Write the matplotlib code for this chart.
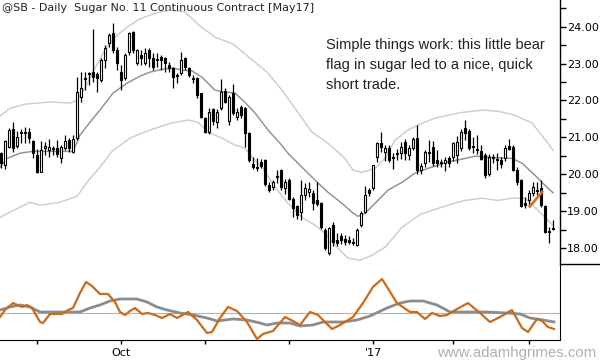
import numpy as np
import pandas as pd
import matplotlib
matplotlib.use("Agg")
import matplotlib.pyplot as plt
from matplotlib.lines import Line2D
from matplotlib.ticker import MultipleLocator, FormatStrFormatter

# ---------- data ----------------------------------------------------------
holidays = ["2016-09-05", "2016-11-24", "2016-12-26", "2017-01-02",
            "2017-01-16", "2017-02-20"]
dates = pd.bdate_range("2016-08-19", "2017-03-09", freq="C", holidays=holidays)

opens = [20.57, 20.24, 20.73, 21.22, 20.76, 21.12, 21.14, 21.14, 20.89, 20.52,
         20.05, 20.71, 20.65, 20.68, 20.70, 20.43, 20.71, 20.92, 20.60, 20.98,
         22.09, 22.58, 22.71, 22.77, 22.72, 22.55, 23.10, 23.56, 23.83, 23.37,
         22.77, 22.61, 23.32, 23.86, 23.01, 23.23, 23.01, 23.37, 23.15, 23.10,
         23.18, 23.15, 22.96, 22.88, 22.69, 22.74, 23.15, 22.88, 22.61, 22.61,
         22.20, 21.52, 21.14, 21.77, 21.41, 21.79, 22.25, 21.44, 22.20, 21.55,
         21.82, 21.79, 21.11, 20.28, 20.19, 20.33, 20.38, 19.70, 19.65, 19.92,
         20.11, 19.62, 19.84, 19.32, 19.13, 18.97, 19.45, 19.51, 19.48, 19.29,
         19.21, 18.48, 17.86, 18.62, 18.21, 18.32, 18.24, 18.21, 18.16, 18.08,
         18.62, 18.97, 19.57, 19.62, 20.46, 20.84, 20.60, 20.71, 20.46, 20.55,
         20.57, 20.87, 20.52, 20.71, 20.98, 20.11, 20.30, 20.60, 20.73, 20.38,
         20.33, 20.30, 20.43, 20.46, 20.52, 20.71, 21.25, 21.17, 20.76, 20.68,
         20.62, 20.52, 20.00, 20.46, 20.41, 20.38, 20.43, 20.76, 20.73, 20.11,
         19.84, 19.21, 19.29, 19.48, 19.56, 19.62, 19.13, 18.45, 18.53]
highs = [20.60, 20.92, 21.25, 21.41, 21.17, 21.22, 21.27, 21.25, 20.92, 20.68,
         20.89, 20.87, 20.95, 20.76, 20.92, 20.79, 21.06, 20.98, 21.06, 22.64,
         22.77, 22.77, 22.77, 23.94, 22.77, 23.15, 23.50, 23.83, 24.10, 23.45,
         22.96, 23.29, 23.86, 23.88, 23.40, 23.37, 23.42, 23.42, 23.29, 23.29,
         23.23, 23.18, 23.04, 22.91, 22.74, 23.31, 23.18, 22.91, 22.69, 22.64,
         22.20, 21.55, 21.79, 21.79, 21.77, 22.58, 22.34, 22.15, 22.44, 21.79,
         21.87, 21.82, 21.14, 20.46, 20.43, 20.41, 20.41, 19.78, 19.84, 20.11,
         20.14, 19.86, 19.91, 19.37, 19.16, 19.84, 19.75, 19.78, 19.57, 19.78,
         19.26, 18.53, 18.56, 18.70, 18.40, 18.40, 18.35, 18.32, 18.27, 18.53,
         19.00, 19.67, 19.62, 20.26, 20.87, 21.14, 20.79, 20.79, 20.57, 20.68,
         20.87, 20.95, 20.79, 21.01, 21.33, 20.30, 20.65, 20.92, 20.90, 20.65,
         20.41, 20.46, 20.49, 20.87, 21.04, 21.22, 21.47, 21.22, 21.01, 21.06,
         20.79, 20.57, 20.55, 20.55, 20.57, 20.46, 20.79, 20.95, 20.79, 20.19,
         19.86, 19.37, 19.57, 19.78, 19.78, 19.84, 19.16, 18.56, 18.75]
lows = [20.16, 20.13, 20.71, 20.60, 20.71, 20.84, 20.84, 20.84, 20.43, 20.03,
        20.05, 20.52, 20.46, 20.52, 20.46, 20.30, 20.65, 20.60, 20.57, 20.92,
        21.96, 22.28, 22.42, 22.50, 22.23, 22.50, 22.88, 23.46, 23.29, 22.82,
        22.28, 22.55, 23.23, 23.29, 22.96, 22.96, 22.96, 22.91, 22.82, 22.91,
        22.82, 22.77, 22.77, 22.34, 22.47, 22.69, 22.82, 22.64, 22.47, 22.06,
        21.52, 21.11, 21.08, 21.33, 21.26, 21.74, 21.93, 21.33, 21.60, 21.47,
        21.52, 20.73, 20.33, 20.13, 20.08, 20.16, 19.67, 19.51, 19.57, 19.75,
        19.57, 19.46, 19.29, 18.84, 18.78, 18.75, 19.29, 19.37, 19.02, 19.13,
        18.51, 17.94, 17.80, 18.05, 18.05, 18.10, 18.08, 18.10, 18.08, 18.05,
        18.56, 18.94, 19.40, 19.57, 20.33, 20.60, 20.35, 20.33, 20.13, 20.38,
        20.41, 20.38, 20.38, 20.65, 20.00, 20.00, 20.19, 20.33, 20.22, 20.19,
        20.19, 20.08, 20.19, 20.35, 20.30, 20.62, 20.92, 20.65, 20.57, 20.55,
        20.38, 19.89, 19.95, 20.30, 20.11, 20.16, 20.35, 20.65, 20.08, 19.70,
        19.10, 19.08, 19.13, 19.40, 19.45, 19.10, 18.40, 18.13, 18.48]
closes = [20.30, 20.89, 21.20, 20.71, 21.00, 21.14, 21.12, 20.98, 20.57, 20.05,
          20.65, 20.76, 20.73, 20.70, 20.54, 20.73, 20.89, 20.71, 20.95, 22.23,
          22.34, 22.61, 22.74, 22.64, 22.61, 23.10, 23.42, 23.77, 23.37, 23.01,
          22.55, 23.23, 23.83, 23.37, 23.37, 23.15, 23.29, 23.15, 22.91, 23.12,
          23.10, 23.01, 22.88, 22.64, 22.67, 23.10, 22.91, 22.69, 22.58, 22.15,
          21.55, 21.14, 21.68, 21.44, 21.68, 22.23, 21.96, 22.09, 21.66, 21.68,
          21.60, 21.11, 20.38, 20.19, 20.16, 20.22, 19.73, 19.57, 19.78, 19.95,
          19.65, 19.78, 19.32, 19.08, 18.89, 19.43, 19.62, 19.59, 19.21, 19.18,
          18.57, 18.00, 18.53, 18.16, 18.13, 18.21, 18.16, 18.16, 18.13, 18.48,
          18.94, 19.45, 19.48, 20.24, 20.84, 20.73, 20.71, 20.38, 20.43, 20.57,
          20.73, 20.57, 20.71, 20.95, 20.11, 20.22, 20.60, 20.57, 20.30, 20.30,
          20.30, 20.38, 20.30, 20.84, 20.87, 21.14, 21.11, 20.71, 20.73, 20.65,
          20.41, 19.97, 20.46, 20.43, 20.38, 20.27, 20.71, 20.68, 20.11, 19.78,
          19.13, 19.16, 19.48, 19.65, 19.54, 19.16, 18.43, 18.43, 18.51]

# channel lines, sampled at bar positions
mid_x = [-0.25, 1.5, 4.75, 7.75, 12.25, 18, 19.75, 22.25, 24.75, 28, 31.5,
         34.75, 37.25, 40.5, 43, 45.5, 47.75, 50.25, 53.5, 56, 58.5, 61, 63.5,
         66.75, 69.75, 71.75, 75.25, 78.5, 81.75, 85.25, 87.75, 89.25, 91,
         93.5, 96.75, 100.25, 103.5, 106.75, 111.75, 115.25, 118.5, 122.25,
         127.75, 130.25, 133.5, 136.75, 138]
mid_y = [20.19, 20.43, 20.57, 20.62, 20.62, 20.62, 21.06, 21.41, 21.74, 22.20,
         22.47, 22.66, 22.77, 22.85, 22.88, 22.82, 22.80, 22.63, 22.28, 22.23,
         22.20, 21.95, 21.66, 21.20, 20.84, 20.57, 20.19, 19.84, 19.51, 19.21,
         18.97, 18.86, 18.94, 19.21, 19.57, 19.78, 20.03, 20.16, 20.33, 20.41,
         20.49, 20.46, 20.43, 20.30, 19.97, 19.62, 19.50]
up_x = [-0.25, 2.25, 6, 12.25, 17.25, 19, 21, 23.5, 26, 28.5, 31.5, 34.75,
        38.5, 42.25, 46, 49.75, 53.5, 58, 62.25, 66.5, 70.25, 73.5, 77.75,
        81.75, 86, 88, 90.25, 93.5, 96, 98.5, 101.75, 104.75, 108.5, 114.25,
        120.25, 124.25, 128.5, 132.75, 136.75, 138]
up_y = [21.58, 21.79, 21.90, 21.96, 21.93, 22.01, 22.34, 22.88, 23.37, 23.72,
        23.99, 24.21, 24.37, 24.45, 24.40, 24.02, 23.72, 23.53, 23.15, 22.77,
        22.28, 21.79, 21.14, 20.84, 20.43, 20.11, 20.05, 20.16, 20.43, 20.92,
        21.20, 21.36, 21.52, 21.66, 21.74, 21.71, 21.60, 21.39, 20.84, 20.65]
lo_x = [-0.25, 2.25, 7.25, 9.75, 14.75, 19, 22.25, 24.75, 27.75, 32.25, 36.5,
        42.25, 46.75, 49.25, 51.75, 55.25, 58.5, 61, 62.75, 65.25, 68.5, 71.75,
        75.25, 78.5, 81, 83.5, 86.75, 89.75, 92.75, 96, 100.25, 104.75, 107.75,
        111.75, 116, 120.25, 124.25, 127.75, 131, 133.5, 136.75, 138]
lo_y = [18.83, 18.97, 19.24, 19.16, 19.24, 19.40, 19.89, 20.19, 20.62, 20.98,
        21.17, 21.38, 21.47, 21.41, 21.14, 20.98, 20.79, 20.71, 20.46, 20.19,
        19.65, 19.21, 18.83, 18.62, 18.40, 18.08, 17.72, 17.67, 17.80, 18.02,
        18.56, 18.91, 19.02, 19.16, 19.29, 19.35, 19.29, 19.35, 19.35, 19.10,
        18.75, 18.62]

# bear flag marker
flag_x = [132, 135.5]
flag_y = [19.10, 19.55]

# lower oscillator panel
osc_x = [-0.25, 1, 3, 5.25, 6.5, 7.75, 9.75, 10.5, 12.25, 15.25, 16.75, 18,
         19.75, 21.25, 22.75, 24.75, 26.75, 28.5, 29.75, 31, 32.25, 33.5,
         35.25, 36.75, 38.5, 40.25, 42.25, 44, 46.75, 49, 51.5, 52.75, 54.75,
         56.75, 59, 61.5, 64, 65.5, 68, 71, 73, 74.75, 77.25, 79.25, 82.75,
         84.75, 88, 90.5, 93, 95.25, 96.5, 99, 102.25, 104, 106, 107.75,
         109.75, 111.5, 114, 116.75, 119.75, 122.25, 124.75, 127.75, 130.25,
         131.75, 134, 135.25, 136.75, 138.25]
osc_y = [-0.4, 0.3, 1.0, 0.6, 0.8, 0.5, -0.9, -1.0, -0.1, -0.1, 0.3, 0.5,
         2.0, 3.1, 2.7, 1.9, 1.9, 1.1, 0.1, -0.2, 0.2, 0.5, -0.1, 0.0, -0.2,
         -0.5, -0.1, -0.5, 0.1, -0.7, -2.0, -1.9, -0.5, 0.6, 0.2, -0.9, -2.6,
         -2.1, -1.8, -0.4, -0.8, -1.2, 0.1, -0.2, -1.6, -1.2, -0.4, 1.0, 2.6,
         3.4, 2.6, 1.0, 0.1, 0.1, -0.6, 0.0, -0.3, -0.2, 0.4, 1.0, 0.0, -0.9,
         -0.4, 0.3, -1.5, -1.9, -0.6, -0.8, -1.4, -1.6]
sig_x = [-0.25, 2.25, 4.75, 7.25, 9.75, 14.75, 19.75, 22.25, 24.75, 27.25,
         29.75, 34, 36.5, 39, 41.5, 44.75, 48, 51.5, 54, 58, 61.5, 64.75, 66.5,
         69, 72.25, 74.75, 78, 80.5, 85.5, 89, 92.25, 96.5, 99.75, 102.25,
         105.5, 109, 112.25, 116.5, 121.5, 126.5, 129.75, 132.25, 135.5, 138.25]
sig_y = [0.3, 0.6, 0.8, 0.6, 0.1, 0.1, 0.1, 0.5, 0.8, 1.2, 1.4, 1.4, 1.1, 0.6,
         0.3, 0.0, -0.2, -0.5, -0.8, -0.6, -0.7, -1.0, -1.2, -1.0, -1.0, -1.3,
         -1.2, -0.9, -0.9, -0.7, -0.3, 0.5, 1.0, 1.2, 1.2, 0.8, 0.1, 0.1, 0.1,
         0.0, -0.1, -0.5, -0.7, -0.9]

title = "@SB - Daily  Sugar No. 11 Continuous Contract [May17]"
note = ("Simple things work: this little bear\n"
        "flag in sugar led to a nice, quick\n"
        "short trade.")


# ---------- drawing --------------------------------------------------------
fig = plt.figure(figsize=(6, 3.6), dpi=100)
ax = fig.add_axes([0, 96 / 360, 560 / 600, 264 / 360])
ax2 = fig.add_axes([0, 20 / 360, 560 / 600, 76 / 360], sharex=ax)

n = len(opens)
x = np.arange(n)
o, h, l, c = map(np.asarray, (opens, highs, lows, closes))
up = c >= o

ax.plot(up_x, up_y, color="#cfcfcf", lw=1.1, zorder=1)
ax.plot(lo_x, lo_y, color="#cfcfcf", lw=1.1, zorder=1)
ax.plot(mid_x, mid_y, color="#959595", lw=1.1, zorder=1)

ax.vlines(x, l, h, color="black", lw=0.9, zorder=2)
body_lo = np.minimum(o, c)
body_h = np.maximum(np.abs(c - o), 0.02)
ax.bar(x, body_h, bottom=body_lo, width=0.66,
       color=np.where(up, "white", "black"), edgecolor="black",
       linewidth=0.8, zorder=3)

ax.plot(flag_x, flag_y, color="#d2741e", lw=2.0, solid_capstyle="butt", zorder=4)

ax.set_xlim(-0.25, 139.75)
ax.set_ylim(17.566, 24.725)
for s in ("top", "left", "bottom"):
    ax.spines[s].set_visible(False)
ax.spines["right"].set_linewidth(1.0)
ax.yaxis.tick_right()
ax.yaxis.set_major_locator(MultipleLocator(1.0))
ax.yaxis.set_minor_locator(MultipleLocator(0.5))
ax.yaxis.set_major_formatter(FormatStrFormatter("%.2f"))
ax.tick_params(axis="y", which="both", direction="out", length=4, width=1,
               labelsize=8, pad=1)
ax.tick_params(axis="x", which="both", bottom=False, labelbottom=False)

fig.add_artist(Line2D([560 / 600, 1.0], [96 / 360, 96 / 360],
                      color="black", lw=1.0))

# lower panel
ax2.axhline(0, color="#b4b4b4", lw=0.8, zorder=1)
ax2.plot(sig_x, sig_y, color="#8c8c8c", lw=2.0, zorder=2)
ax2.plot(osc_x, osc_y, color="#cc6a1c", lw=1.6, zorder=3)
ax2.set_ylim(-2.7, 4.9)
for s in ("top", "left"):
    ax2.spines[s].set_visible(False)
ax2.set_yticks([])

month_starts = pd.Series(np.arange(n), index=dates).groupby(
    [dates.year, dates.month]).first()
tick_pos = month_starts.values[1:]
tick_lab = []
for (yr, mo) in month_starts.index[1:]:
    if mo == 10:
        tick_lab.append("Oct")
    elif mo == 1:
        tick_lab.append("'" + str(yr)[2:])
    else:
        tick_lab.append("")
ax2.set_xticks(tick_pos)
ax2.set_xticklabels(tick_lab)
ax2.tick_params(axis="x", direction="out", length=3, width=1, labelsize=8,
                pad=3)

fig.text(0.004, 1 - 8 / 360, title, ha="left", va="center", fontsize=8,
         color="#222222")
fig.text(326 / 600, 1 - 38 / 360, note, ha="left", va="top",
         fontsize=10.5, family="Liberation Sans", color="#222222",
         linespacing=1.55)
fig.text(596 / 600, 1 - 353 / 360, "www.adamhgrimes.com", ha="right",
         va="center", fontsize=10.8, family="Liberation Sans", color="#b0b0b0")

fig.savefig("out.png", dpi=100)
